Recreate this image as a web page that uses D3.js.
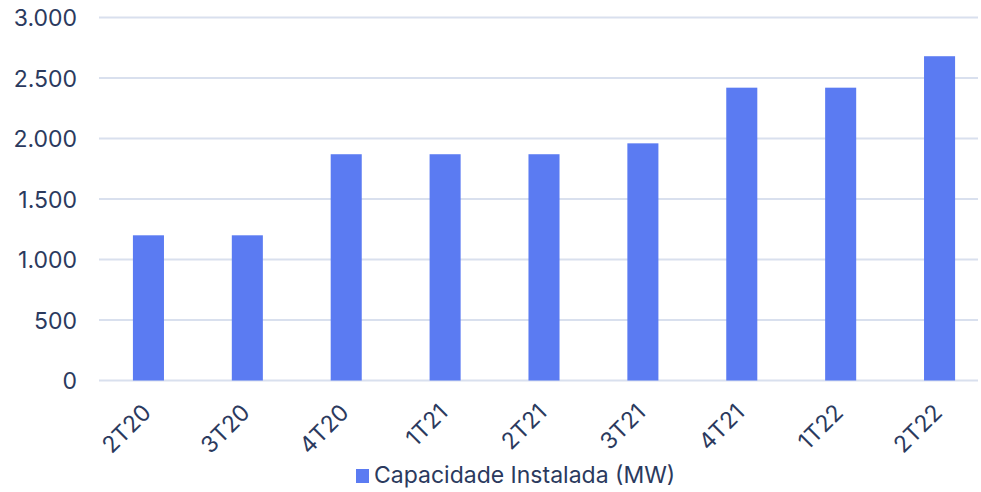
<!DOCTYPE html>
<html>
<head>
<meta charset="utf-8">
<script src="https://cdn.jsdelivr.net/npm/d3@7"></script>
<style>
  html, body { margin: 0; padding: 0; background: #fff; }
  svg { display: block; font-family: Inter, "Open Sans", sans-serif; }
</style>
</head>
<body>
<svg id="chart" width="981" height="492"></svg>
<script>
// Quarterly installed capacity (MW)
const quarters = ["2T20", "3T20", "4T20", "1T21", "2T21", "3T21", "4T21", "1T22", "2T22"];
const capacity = [1200, 1200, 1870, 1870, 1870, 1960, 2420, 2420, 2680];
const yTicks = [0, 500, 1000, 1500, 2000, 2500, 3000];
const seriesName = "Capacidade Instalada (MW)";

const svg = d3.select("#chart");
const textColor = "#2b3a5e";
const barColor = "#5b7bf2";
const gridColor = "#d9e0ee";
const fontFamily = "Inter, 'Open Sans', sans-serif";

const x = d3.scaleBand().domain(quarters).range([99, 989]).paddingInner(0.686).paddingOuter(0.343);
const y = d3.scaleLinear().domain([0, 3000]).range([380.5, 17.5]);
const fmt = v => d3.format(",")(v).replace(/,/g, ".");

// horizontal gridlines
svg.append("g").selectAll("line").data(yTicks).join("line")
  .attr("x1", 99).attr("x2", 978)
  .attr("y1", d => y(d)).attr("y2", d => y(d))
  .attr("stroke", gridColor).attr("stroke-width", 2);

// y axis labels
const yAxis = d3.axisLeft(y).tickValues(yTicks).tickFormat(fmt).tickSize(0).tickPadding(0);
svg.append("g").attr("transform", "translate(77,0)").call(yAxis)
  .call(g => g.select(".domain").remove())
  .call(g => g.selectAll("text").attr("fill", textColor).attr("font-size", 23)
    .attr("font-family", fontFamily).attr("dy", "0.36em"));

// bars
svg.append("g").selectAll("rect").data(quarters).join("rect")
  .attr("x", d => x(d))
  .attr("width", x.bandwidth())
  .attr("y", (d, i) => y(capacity[i]))
  .attr("height", (d, i) => y(0) - y(capacity[i]))
  .attr("fill", barColor);

// x axis labels, rotated 45 degrees
const xAxis = d3.axisBottom(x).tickSize(0).tickPadding(0);
svg.append("g").attr("transform", "translate(0,0)").call(xAxis)
  .call(g => g.select(".domain").remove())
  .call(g => g.selectAll("text")
    .attr("fill", textColor).attr("font-size", 23)
    .attr("font-family", fontFamily)
    .attr("text-anchor", "end")
    .attr("x", 0).attr("y", 0).attr("dy", 0)
    .attr("transform", "translate(4,414) rotate(-45)"));

// legend
const legend = svg.append("g").attr("transform", "translate(356,469)");
legend.append("rect").attr("width", 13).attr("height", 14).attr("fill", barColor);
legend.append("text").attr("x", 18).attr("y", 14).attr("fill", textColor)
  .attr("font-size", 23).attr("font-family", fontFamily).text(seriesName);
</script>
</body>
</html>
